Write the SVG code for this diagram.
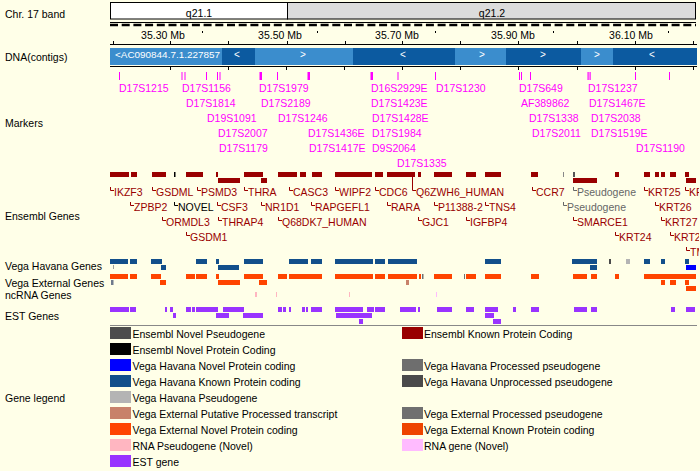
<svg xmlns="http://www.w3.org/2000/svg" width="700" height="471" viewBox="0 0 700 471">
<defs>
<style>
text{font-family:"Liberation Sans",Arial,sans-serif;font-size:10.5px}
.lab{fill:#000}
.mk{fill:#ff00ff}
.mkt{fill:#ff00ff}
.sc{font-size:10px;fill:#000}
.ct{font-size:9.6px;fill:#fff}
.ctc{font-size:10px;fill:#fff;text-anchor:middle}
.dk{fill:#0c5aa0}
.gk{fill:#990000}
.gt{fill:#990000}
.gn{fill:#000}
.gp{fill:#666}
.ck{stroke:#990000;fill:none;stroke-width:1}
.cn{stroke:#000;fill:none;stroke-width:1}
.cp{stroke:#666;fill:none;stroke-width:1}
.vh{fill:#124f8b}
.ve{fill:#ff4400}
.est{fill:#9933ff}
.lg{fill:#000}
</style>
<clipPath id="trk"><rect x="0" y="0" width="699" height="471"/></clipPath>
</defs>
<rect width="700" height="471" fill="#ffffe8"/>

<g id="left-labels" class="lab">
<text x="5" y="18">Chr. 17 band</text>
<text x="5" y="61">DNA(contigs)</text>
<text x="5" y="127">Markers</text>
<text x="5" y="220">Ensembl Genes</text>
<text x="5" y="270">Vega Havana Genes</text>
<text x="5" y="287">Vega External Genes</text>
<text x="5" y="299">ncRNA Genes</text>
<text x="5" y="320">EST Genes</text>
<text x="5" y="402">Gene legend</text>
</g>

<g id="band">
<rect x="110.5" y="2.5" width="177" height="16.5" fill="#fff" stroke="#000"/>
<rect x="287.5" y="2.5" width="408" height="16.5" fill="#dcdcdc" stroke="#000"/>
<text x="199" y="17" text-anchor="middle">q21.1</text>
<text x="492" y="17" text-anchor="middle">q21.2</text>
<line x1="110" y1="22.5" x2="696" y2="22.5" stroke="#000"/>
<line x1="110" y1="25" x2="696" y2="25" stroke="#000" stroke-width="2.5" stroke-dasharray="8 3.7"/>
</g>

<g id="scale">
<g class="sc" text-anchor="middle">
<text x="163" y="39">35.30 Mb</text>
<text x="280" y="39">35.50 Mb</text>
<text x="397" y="39">35.70 Mb</text>
<text x="513" y="39">35.90 Mb</text>
<text x="631" y="39">36.10 Mb</text>
</g>
<g stroke="#000">
<path d="M202.5 31V33M317.5 31V33M435.5 31V33M553.5 31V33M668.5 31V33"/>
<line x1="110" y1="44.5" x2="697" y2="44.5"/>
<path d="M113.5 41V44M170.5 41V44M228.5 41V44M287.5 41V44M345.5 41V44M402.5 41V44M460.5 41V44M518.5 41V44M577.5 41V44M635.5 41V44M693.5 41V44"/>
</g>
</g>

<g id="contigs">
<rect x="110" y="48" width="112" height="17" fill="#3b8dcd"/>
<rect x="222" y="48" width="33" height="17" class="dk"/>
<rect x="255" y="48" width="98" height="17" fill="#3b8dcd"/>
<rect x="353" y="48" width="102" height="17" class="dk"/>
<rect x="455" y="48" width="51" height="17" fill="#3b8dcd"/>
<rect x="506" y="48" width="75" height="17" class="dk"/>
<rect x="581" y="48" width="32" height="17" fill="#3b8dcd"/>
<rect x="613" y="48" width="84" height="17" class="dk"/>
<text class="ct" x="115" y="58" textLength="105" lengthAdjust="spacingAndGlyphs">&lt;AC090844.7.1.227857</text>
<text class="ctc" x="237" y="58">&lt;</text>
<text class="ctc" x="303" y="58">&gt;</text>
<text class="ctc" x="403" y="58">&lt;</text>
<text class="ctc" x="482" y="58">&gt;</text>
<text class="ctc" x="543" y="58">&gt;</text>
<text class="ctc" x="597" y="58">&gt;</text>
<text class="ctc" x="652" y="58">&lt;</text>
<g stroke="#000">
<line x1="110" y1="66.5" x2="697" y2="66.5"/>
<path d="M170.5 67V70M228.5 67V70M286.5 67V70M344.5 67V70M402.5 67V70M460.5 67V70M518.5 67V70M577.5 67V70M635.5 67V70M693.5 67V70"/>
</g>
</g>

<g id="markers">
<g class="mkt">
<rect x="119" y="72" width="1" height="8"/>
<rect x="181.5" y="72" width="1" height="8"/>
<rect x="184.5" y="72" width="1" height="8"/>
<rect x="206" y="72" width="1" height="8"/>
<rect x="217" y="72" width="1" height="8"/>
<rect x="219.5" y="72" width="1" height="8"/>
<rect x="259.5" y="72" width="2.5" height="8"/>
<rect x="277" y="72" width="1" height="8"/>
<rect x="307.5" y="72" width="2.5" height="8"/>
<rect x="370.5" y="72" width="2.5" height="8"/>
<rect x="397.5" y="72" width="1" height="8"/>
<rect x="435" y="72" width="1" height="8"/>
<rect x="519" y="72" width="1" height="8"/>
<rect x="521" y="72" width="1" height="8"/>
<rect x="530" y="72" width="1" height="8"/>
<rect x="587.5" y="72" width="1.2" height="8"/>
<rect x="589.5" y="72" width="1.2" height="8"/>
<rect x="635" y="72" width="1" height="8"/>
<rect x="669" y="72" width="1" height="8"/>
</g>
<g class="mk">
<text x="119" y="92">D17S1215</text>
<text x="182" y="92">D17S1156</text>
<text x="259" y="92">D17S1979</text>
<text x="371" y="92">D16S2929E</text>
<text x="436" y="92">D17S1230</text>
<text x="519" y="92">D17S649</text>
<text x="588" y="92">D17S1237</text>
<text x="186" y="107">D17S1814</text>
<text x="261" y="107">D17S2189</text>
<text x="371" y="107">D17S1423E</text>
<text x="521" y="107">AF389862</text>
<text x="589" y="107">D17S1467E</text>
<text x="207" y="122">D19S1091</text>
<text x="278" y="122">D17S1246</text>
<text x="372" y="122">D17S1428E</text>
<text x="529" y="122">D17S1338</text>
<text x="591" y="122">D17S2038</text>
<text x="218" y="137">D17S2007</text>
<text x="308" y="137">D17S1436E</text>
<text x="372" y="137">D17S1984</text>
<text x="532" y="137">D17S2011</text>
<text x="591" y="137">D17S1519E</text>
<text x="219" y="152">D17S1179</text>
<text x="309" y="152">D17S1417E</text>
<text x="372" y="152">D9S2064</text>
<text x="636" y="152">D17S1190</text>
<text x="397" y="167">D17S1335</text>
</g>
</g>

<g id="ensembl-genes" clip-path="url(#trk)">
<g class="gk">
<rect x="110" y="172" width="19" height="5"/>
<rect x="131" y="172" width="6" height="5"/>
<rect x="152" y="172" width="14" height="5"/>
<rect x="186" y="172" width="17" height="5"/>
<rect x="216" y="172" width="2" height="5"/>
<rect x="244" y="172" width="19" height="5"/>
<rect x="278" y="172" width="19" height="5"/>
<rect x="300" y="172" width="6" height="5"/>
<rect x="312" y="172" width="10" height="5"/>
<rect x="335" y="172" width="37" height="5"/>
<rect x="375" y="172" width="8" height="5"/>
<rect x="387" y="172" width="28" height="5"/>
<rect x="418" y="172" width="3" height="5"/>
<rect x="434" y="172" width="18" height="5"/>
<rect x="466" y="172" width="10" height="5"/>
<rect x="485" y="172" width="16" height="5"/>
<rect x="531" y="172" width="7" height="5"/>
<rect x="615" y="172" width="4" height="5"/>
<rect x="644" y="172" width="6" height="5"/>
<rect x="655" y="172" width="4" height="5"/>
<rect x="661" y="172" width="4" height="5"/>
<rect x="670" y="172" width="6" height="5"/>
<rect x="685" y="172" width="4" height="5"/>
<rect x="218" y="178" width="22" height="5"/>
<rect x="261" y="178" width="6" height="5"/>
<rect x="573" y="178" width="24" height="5"/>
<rect x="686" y="178" width="10" height="5"/>
</g>
<rect x="174" y="172" width="1.5" height="5" fill="#000"/>
<rect x="563" y="172" width="1" height="5" fill="#888"/>
<rect x="573" y="172" width="2" height="5" fill="#555"/>
<path class="ck" d="M110.5 187V190.5H114M152.5 187V190.5H156M197.5 187V190.5H201M244.5 187V190.5H248M289.5 187V190.5H293M335.5 187V190.5H339M375.5 187V190.5H379M412.5 177V190.5H416M532.5 187V190.5H536M644.5 187V190.5H648M685.5 187V190.5H689"/>
<path class="ck" d="M130.5 202V205.5H134M217.5 202V205.5H221M261.5 202V205.5H265M311.5 202V205.5H315M387.5 202V205.5H391M434.5 202V205.5H438M485.5 202V205.5H489M655.5 202V205.5H659"/>
<path class="ck" d="M162.5 217V220.5H166M218.5 217V220.5H222M278.5 217V220.5H282M418.5 217V220.5H422M466.5 217V220.5H470M573.5 217V220.5H577M661.5 217V220.5H665"/>
<path class="ck" d="M186.5 232V235.5H190M615.5 232V235.5H619M670.5 232V235.5H674M686.5 247V250.5H690"/>
<path class="cn" d="M174.5 202V205.5H178"/>
<path class="cp" d="M573.5 187V190.5H577M563.5 202V205.5H567"/>
<g class="gt">
<text x="114" y="196">IKZF3</text>
<text x="156" y="196">GSDML</text>
<text x="201" y="196">PSMD3</text>
<text x="248" y="196">THRA</text>
<text x="293" y="196">CASC3</text>
<text x="339" y="196">WIPF2</text>
<text x="379" y="196">CDC6</text>
<text x="416" y="196">Q6ZWH6_HUMAN</text>
<text x="536" y="196">CCR7</text>
<text x="648" y="196">KRT25</text>
<text x="689" y="196">KR</text>
<text x="134" y="211">ZPBP2</text>
<text x="221" y="211">CSF3</text>
<text x="265" y="211">NR1D1</text>
<text x="315" y="211">RAPGEFL1</text>
<text x="391" y="211">RARA</text>
<text x="438" y="211">P11388-2</text>
<text x="489" y="211">TNS4</text>
<text x="659" y="211">KRT26</text>
<text x="166" y="226">ORMDL3</text>
<text x="222" y="226">THRAP4</text>
<text x="282" y="226">Q68DK7_HUMAN</text>
<text x="422" y="226">GJC1</text>
<text x="470" y="226">IGFBP4</text>
<text x="577" y="226">SMARCE1</text>
<text x="665" y="226">KRT27</text>
<text x="190" y="241">GSDM1</text>
<text x="619" y="241">KRT24</text>
<text x="674" y="241">KRT2</text>
<text x="690" y="256">TM</text>
</g>
<text class="gn" x="178" y="211">NOVEL</text>
<text class="gp" x="577" y="196">Pseudogene</text>
<text class="gp" x="567" y="211">Pseudogene</text>
</g>

<g id="vega-havana">
<g class="vh">
<rect x="110" y="259" width="18" height="5"/>
<rect x="130" y="259" width="7" height="5"/>
<rect x="151" y="259" width="11" height="5"/>
<rect x="196" y="259" width="11" height="5"/>
<rect x="216" y="259" width="3" height="5"/>
<rect x="244" y="259" width="19" height="5"/>
<rect x="289" y="259" width="19" height="5"/>
<rect x="311" y="259" width="11" height="5"/>
<rect x="335" y="259" width="38" height="5"/>
<rect x="375" y="259" width="10" height="5"/>
<rect x="388" y="259" width="29" height="5"/>
<rect x="485" y="259" width="16" height="5"/>
<rect x="572" y="259" width="25" height="5"/>
<rect x="644" y="259" width="6" height="5"/>
<rect x="661" y="259" width="4" height="5"/>
<rect x="685" y="259" width="4" height="5"/>
<rect x="161" y="265" width="5" height="5"/>
<rect x="218" y="265" width="21" height="5"/>
<rect x="590" y="265" width="7" height="5"/>
</g>
<rect x="113" y="265" width="0.8" height="4" fill="#888"/>
<rect x="609" y="259" width="2" height="5" fill="#4a4a4a"/>
<rect x="626" y="259" width="4" height="5" fill="#b4b4b4"/>
<rect x="686" y="265" width="10" height="5" fill="#0000ff"/>
</g>

<g id="vega-external">
<g class="ve">
<rect x="110" y="274" width="18" height="5"/>
<rect x="130" y="274" width="7" height="5"/>
<rect x="151" y="274" width="10" height="5"/>
<rect x="186" y="274" width="9" height="5"/>
<rect x="196" y="274" width="11" height="5"/>
<rect x="216" y="274" width="3" height="5"/>
<rect x="244" y="274" width="19" height="5"/>
<rect x="278" y="274" width="9" height="5"/>
<rect x="289" y="274" width="33" height="5"/>
<rect x="335" y="274" width="38" height="5"/>
<rect x="375" y="274" width="10" height="5"/>
<rect x="388" y="274" width="29" height="5"/>
<rect x="419" y="274" width="2" height="5"/>
<rect x="434" y="274" width="18" height="5"/>
<rect x="466" y="274" width="10" height="5"/>
<rect x="485" y="274" width="16" height="5"/>
<rect x="531" y="274" width="8" height="5"/>
<rect x="573" y="274" width="14" height="5"/>
<rect x="591" y="274" width="6" height="5"/>
<rect x="615" y="274" width="4" height="5"/>
<rect x="644" y="274" width="52" height="5"/>
<rect x="160" y="280" width="6" height="5"/>
<rect x="218" y="280" width="22" height="5"/>
<rect x="259" y="280" width="8" height="5"/>
<rect x="661" y="280" width="4" height="5"/>
<rect x="670" y="280" width="6" height="5"/>
<rect x="685" y="280" width="4" height="5"/>
<rect x="686" y="286" width="10" height="5"/>
</g>
<rect x="111" y="280" width="2.5" height="5" fill="#6f7a8c"/>
<rect x="422" y="274" width="1.5" height="5" fill="#707070"/>
<rect x="464" y="274" width="1" height="5" fill="#707070"/>
<rect x="406" y="280" width="3" height="5" fill="#c8826a"/>
</g>

<g id="ncrna">
<rect x="255" y="292" width="2" height="5" fill="#ffb6c1"/>
<rect x="276" y="292" width="1" height="5" fill="#ffb6c1"/>
<rect x="349" y="292" width="1" height="5" fill="#ffb6c1"/>
<rect x="436" y="292" width="1" height="5" fill="#ffbbff"/>
</g>

<g id="est-genes" class="est">
<rect x="110" y="307" width="19" height="5"/>
<rect x="130" y="307" width="6" height="5"/>
<rect x="165" y="307" width="2" height="5"/>
<rect x="170" y="307" width="3" height="5"/>
<rect x="186" y="307" width="5" height="5"/>
<rect x="192" y="307" width="3" height="5"/>
<rect x="196" y="307" width="22" height="5"/>
<rect x="223" y="307" width="21" height="5"/>
<rect x="278" y="307" width="4" height="5"/>
<rect x="283" y="307" width="3" height="5"/>
<rect x="289" y="307" width="2" height="5"/>
<rect x="302" y="307" width="3" height="5"/>
<rect x="306" y="307" width="2" height="5"/>
<rect x="311" y="307" width="11" height="5"/>
<rect x="335" y="307" width="28" height="5"/>
<rect x="367" y="307" width="7" height="5"/>
<rect x="375" y="307" width="10" height="5"/>
<rect x="400" y="307" width="16" height="5"/>
<rect x="418" y="307" width="2" height="5"/>
<rect x="437" y="307" width="15" height="5"/>
<rect x="466" y="307" width="8" height="5"/>
<rect x="485" y="307" width="13" height="5"/>
<rect x="513" y="307" width="3" height="5"/>
<rect x="531" y="307" width="8" height="5"/>
<rect x="574" y="307" width="13" height="5"/>
<rect x="591" y="307" width="6" height="5"/>
<rect x="671" y="307" width="4" height="5"/>
<rect x="686" y="307" width="9" height="5"/>
<rect x="173" y="313" width="3" height="5"/>
<rect x="216" y="313" width="13" height="5"/>
<rect x="243" y="313" width="20" height="5"/>
<rect x="336" y="313" width="36" height="5"/>
<rect x="485" y="313" width="9" height="5"/>
<rect x="359" y="319" width="4" height="5"/>
<rect x="493" y="319" width="8" height="5"/>
</g>

<line x1="110" y1="325.5" x2="697" y2="325.5" stroke="#888"/>

<g id="legend">
<rect x="110" y="327" width="21" height="12" fill="#4d4d4d"/>
<rect x="110" y="343" width="21" height="12" fill="#000"/>
<rect x="110" y="359" width="21" height="12" fill="#0000ff"/>
<rect x="110" y="375" width="21" height="12" fill="#124f8b"/>
<rect x="110" y="391" width="21" height="12" fill="#b4b4b4"/>
<rect x="110" y="407" width="21" height="12" fill="#c8826a"/>
<rect x="110" y="423" width="21" height="12" fill="#ff4400"/>
<rect x="110" y="439" width="21" height="12" fill="#ffb6c1"/>
<rect x="110" y="455" width="21" height="12" fill="#9933ff"/>
<rect x="402" y="327" width="21" height="12" fill="#990000"/>
<rect x="402" y="359" width="21" height="12" fill="#6e6e6e"/>
<rect x="402" y="375" width="21" height="12" fill="#4a4a4a"/>
<rect x="402" y="407" width="21" height="12" fill="#707070"/>
<rect x="402" y="423" width="21" height="12" fill="#ee4400"/>
<rect x="402" y="439" width="21" height="12" fill="#ffbbff"/>
<g class="lg">
<text x="132.5" y="337.5">Ensembl Novel Pseudogene</text>
<text x="132.5" y="353.5">Ensembl Novel Protein Coding</text>
<text x="132.5" y="369.5">Vega Havana Novel Protein coding</text>
<text x="132.5" y="385.5">Vega Havana Known Protein coding</text>
<text x="132.5" y="401.5">Vega Havana Pseudogene</text>
<text x="132.5" y="417.5">Vega External Putative Processed transcript</text>
<text x="132.5" y="433.5">Vega External Novel Protein coding</text>
<text x="132.5" y="449.5">RNA Pseudogene (Novel)</text>
<text x="132.5" y="465.5">EST gene</text>
<text x="424" y="337.5">Ensembl Known Protein Coding</text>
<text x="424" y="369.5">Vega Havana Processed pseudogene</text>
<text x="424" y="385.5">Vega Havana Unprocessed pseudogene</text>
<text x="424" y="417.5">Vega External Processed pseudogene</text>
<text x="424" y="433.5">Vega External Known Protein coding</text>
<text x="424" y="449.5">RNA gene (Novel)</text>
</g>
</g>
</svg>
